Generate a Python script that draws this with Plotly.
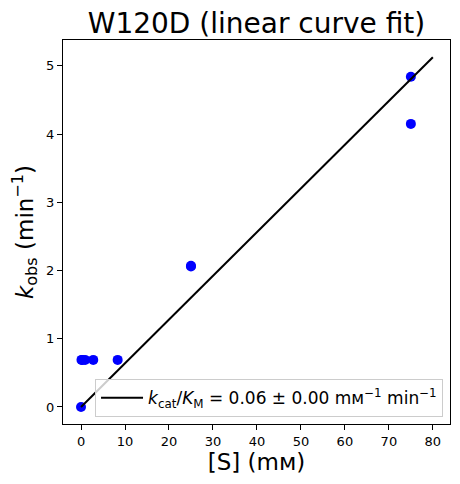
import plotly.graph_objects as go

# substrate concentrations (mM) and observed rates (min^-1)
substrate = [0, 0.103, 0.309, 0.926, 2.78, 8.33, 25, 25, 75, 75]
k_obs = [0.0, 0.69, 0.69, 0.69, 0.69, 0.69, 2.06, 2.07, 4.84, 4.15]

# linear fit through the origin
fit_x = [0, 80]
fit_slope = 0.0641
fit_y = [fit_slope * v for v in fit_x]

font = "DejaVu Sans"

fig = go.Figure()

fig.add_trace(go.Scatter(
    x=substrate, y=k_obs,
    mode="markers",
    marker=dict(color="blue", size=10),
    showlegend=False,
))

fig.add_trace(go.Scatter(
    x=fit_x, y=fit_y,
    mode="lines",
    line=dict(color="black", width=2),
    name="<i>k</i><sub>cat</sub>/<i>K</i><sub>M</sub> = 0.06 ± 0.00 m\u1d0d<sup>\u22121</sup> min<sup>\u22121</sup>",
))

axis_style = dict(
    showline=True, linecolor="black", linewidth=1, mirror=True,
    ticks="outside", ticklen=5, tickcolor="black",
    showgrid=False, zeroline=False,
    tickfont=dict(size=13, color="black"),
)

# the page adds an 8px body margin, so the figure is 8px smaller than the window
fig.update_layout(
    width=452, height=476,
    margin=dict(l=55, r=10, t=32, b=60),
    paper_bgcolor="white", plot_bgcolor="white",
    font=dict(family=font, color="black"),
    title=dict(
        text="W120D (linear curve fit)",
        font=dict(size=28, color="black"),
        x=0.5, xref="paper", xanchor="center",
        y=0.968, yref="container", yanchor="middle",
    ),
    xaxis=dict(
        range=[-4.1, 83.9], tickvals=[0, 10, 20, 30, 40, 50, 60, 70, 80],
        title=dict(text="[S] (m\u1d0d)", font=dict(size=23), standoff=6),
        **axis_style,
    ),
    yaxis=dict(
        range=[-0.25, 5.38], tickvals=[0, 1, 2, 3, 4, 5],
        title=dict(text="<i>k</i><sub>obs</sub> (min<sup>\u22121</sup>)", font=dict(size=23), standoff=10),
        **axis_style,
    ),
    legend=dict(
        x=0.982, y=0.018, xanchor="right", yanchor="bottom",
        bgcolor="rgba(255,255,255,0.8)", bordercolor="#cccccc", borderwidth=1,
        font=dict(size=17), itemwidth=42,
    ),
)

fig.write_html("out.html")
